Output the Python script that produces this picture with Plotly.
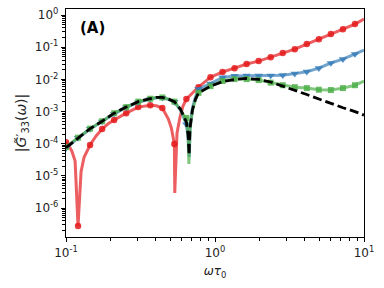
import plotly.graph_objects as go

# ---- data ----
# omega*tau0 positions of the plotted markers
marker_x = [0.1, 0.12045, 0.14508, 0.17475, 0.21049, 0.25354, 0.30539, 0.36784,
            0.44306, 0.53367, 0.64281, 0.77426, 0.93260, 1.1233, 1.3530, 1.6298,
            1.9630, 2.3645, 2.8480, 3.4305, 4.1320, 4.9770, 5.9948, 7.2208, 8.6975]
x_end = 10.0

# log10 |G'33| at the marker positions
red_log = [-3.95, -6.56, -4.04, -3.54, -3.26, -3.05, -2.86, -2.80, -2.89, -4.01,
           -2.61, -2.24, -1.93, -1.77, -1.65, -1.52, -1.43, -1.31, -1.18, -1.06,
           -0.90, -0.75, -0.59, -0.44, -0.28]
red_extra_x = [0.1048, 0.1097, 0.1151, 0.1262, 0.1322, 0.1385, 0.1592, 0.1918,
               0.4037, 0.4645, 0.4864, 0.5094, 0.5370, 0.5559, 0.5822, 0.6099]
red_extra_log = [-4.07, -4.24, -4.54, -4.87, -4.42, -4.20, -3.76, -3.38,
                 -2.82, -3.05, -3.23, -3.51, -5.53, -3.67, -3.17, -2.83]
red_end_log = -0.12

blue_log = [-4.14, -3.82, -3.54, -3.31, -3.07, -2.87, -2.71, -2.61, -2.57, -2.70,
            -3.40, -2.30, -2.13, -1.94, -1.89, -1.88, -1.88, -1.88, -1.87, -1.82,
            -1.76, -1.65, -1.49, -1.37, -1.21]
blue_extra_x = [0.4037, 0.4864, 0.5588, 0.5852, 0.6128, 0.660, 0.672, 0.680, 0.7055, 0.7391]
blue_extra_log = [-2.57, -2.62, -2.82, -2.95, -3.15, -3.80, -4.41, -3.50, -2.88, -2.55]
blue_end_log = -1.09

green_log = [-4.10, -3.81, -3.53, -3.30, -3.05, -2.86, -2.69, -2.60, -2.56, -2.69,
             -3.20, -2.42, -2.21, -2.05, -1.99, -1.99, -2.02, -2.10, -2.18, -2.24,
             -2.27, -2.32, -2.33, -2.27, -2.18]
green_extra_x = [0.4037, 0.4864, 0.5588, 0.5852, 0.6128, 0.660, 0.668, 0.680, 0.7055, 0.7391]
green_extra_log = [-2.56, -2.61, -2.80, -2.93, -3.10, -3.75, -4.63, -3.55, -2.97, -2.63]
green_end_log = -2.05

black_log = [-4.12, -3.81, -3.53, -3.30, -3.05, -2.86, -2.69, -2.60, -2.56, -2.69,
             -3.33, -2.42, -2.21, -2.07, -2.00, -1.97, -2.00, -2.08, -2.21, -2.33,
             -2.47, -2.61, -2.75, -2.88, -3.00]
black_extra_x = [0.4037, 0.4864, 0.5588, 0.5852, 0.6128, 0.660, 0.670, 0.680, 0.7055, 0.7391]
black_extra_log = [-2.56, -2.61, -2.80, -2.92, -3.11, -3.72, -4.35, -3.50, -2.95, -2.62]
black_end_log = -3.11

y_tick_vals = [1e-6, 1e-5, 1e-4, 1e-3, 1e-2, 1e-1, 1e0]
y_tick_text = ["10<sup>-6</sup>", "10<sup>-5</sup>", "10<sup>-4</sup>", "10<sup>-3</sup>",
               "10<sup>-2</sup>", "10<sup>-1</sup>", "10<sup>0</sup>"]
x_tick_vals = [0.1, 1, 10]
x_tick_text = ["10<sup>-1</sup>", "10<sup>0</sup>", "10<sup>1</sup>"]
x_minor_vals = [0.2, 0.3, 0.4, 0.5, 0.6, 0.7, 0.8, 0.9, 2, 3, 4, 5, 6, 7, 8, 9]
y_minor_vals = [m * 10.0 ** e for e in range(-7, 1) for m in range(2, 10)]


def build(mlog, ex, elog, endlog):
    pts = sorted(list(zip(marker_x, mlog)) + list(zip(ex, elog)) + [(x_end, endlog)])
    return [p[0] for p in pts], [10 ** p[1] for p in pts]


FONT = "DejaVu Sans"
fig = go.Figure()

series = [
    (red_log, red_extra_x, red_extra_log, red_end_log, (228, 26, 28), "circle", 6.5),
    (blue_log, blue_extra_x, blue_extra_log, blue_end_log, (55, 126, 184), "triangle-down", 7.5),
    (green_log, green_extra_x, green_extra_log, green_end_log, (77, 175, 74), "square", 6),
]
for mlog, ex, elog, endlog, (r, g, b), sym, sz in series:
    lx, ly = build(mlog, ex, elog, endlog)
    fig.add_trace(go.Scatter(x=lx, y=ly, mode="lines",
                             line=dict(color=f"rgba({r},{g},{b},0.7)", width=3),
                             showlegend=False, hoverinfo="skip"))
    fig.add_trace(go.Scatter(x=marker_x, y=[10 ** v for v in mlog], mode="markers",
                             marker=dict(symbol=sym, size=sz, color=f"rgba({r},{g},{b},0.85)",
                                         line=dict(width=0)),
                             showlegend=False, hoverinfo="skip"))

bx, by = build(black_log, black_extra_x, black_extra_log, black_end_log)
fig.add_trace(go.Scatter(x=bx, y=by, mode="lines",
                         line=dict(color="black", width=2.8, dash="9px,4px"),
                         showlegend=False, hoverinfo="skip"))

fig.add_annotation(text="<b>(A)</b>", xref="paper", yref="paper", x=0.04, y=0.965,
                   xanchor="left", yanchor="top", showarrow=False,
                   font=dict(family=FONT, size=15, color="black"))

axis_common = dict(type="log", showline=True, linecolor="black", linewidth=1.2,
                   mirror=True, ticks="outside", ticklen=4, tickwidth=1, tickcolor="black",
                   showgrid=False, zeroline=False, automargin=False,
                   ticklabeloverflow="allow",
                   tickfont=dict(family=FONT, size=12, color="#222"))

fig.update_xaxes(range=[-1, 1], tickmode="array", tickvals=x_tick_vals, ticktext=x_tick_text,
                 minor=dict(tickmode="array", tickvals=x_minor_vals, ticks="outside",
                            ticklen=2.5, tickcolor="black", showgrid=False),
                 title=dict(text="<i>ωτ</i><sub>0</sub>", font=dict(family=FONT, size=12, color="#222"),
                            standoff=8),
                 **axis_common)
fig.update_yaxes(range=[-6.9, 0.19], tickmode="array", tickvals=y_tick_vals, ticktext=y_tick_text,
                 minor=dict(tickmode="array", tickvals=y_minor_vals, ticks="outside",
                            ticklen=2.5, tickcolor="black", showgrid=False),
                 title=dict(text="|<i>G̃</i>′<sub>33</sub>(<i>ω</i>)|", font=dict(family=FONT, size=14, color="#222"),
                            standoff=4),
                 **axis_common)

fig.update_layout(width=384, height=288, margin=dict(l=66, r=20, t=9, b=51),
                  paper_bgcolor="white", plot_bgcolor="white",
                  font=dict(family=FONT, size=12, color="#222"))

# remove the default page margin so the figure fills the window exactly
fig.write_html("out.html", config={"displayModeBar": False, "staticPlot": True},
               post_script="document.body.style.margin='0';")
